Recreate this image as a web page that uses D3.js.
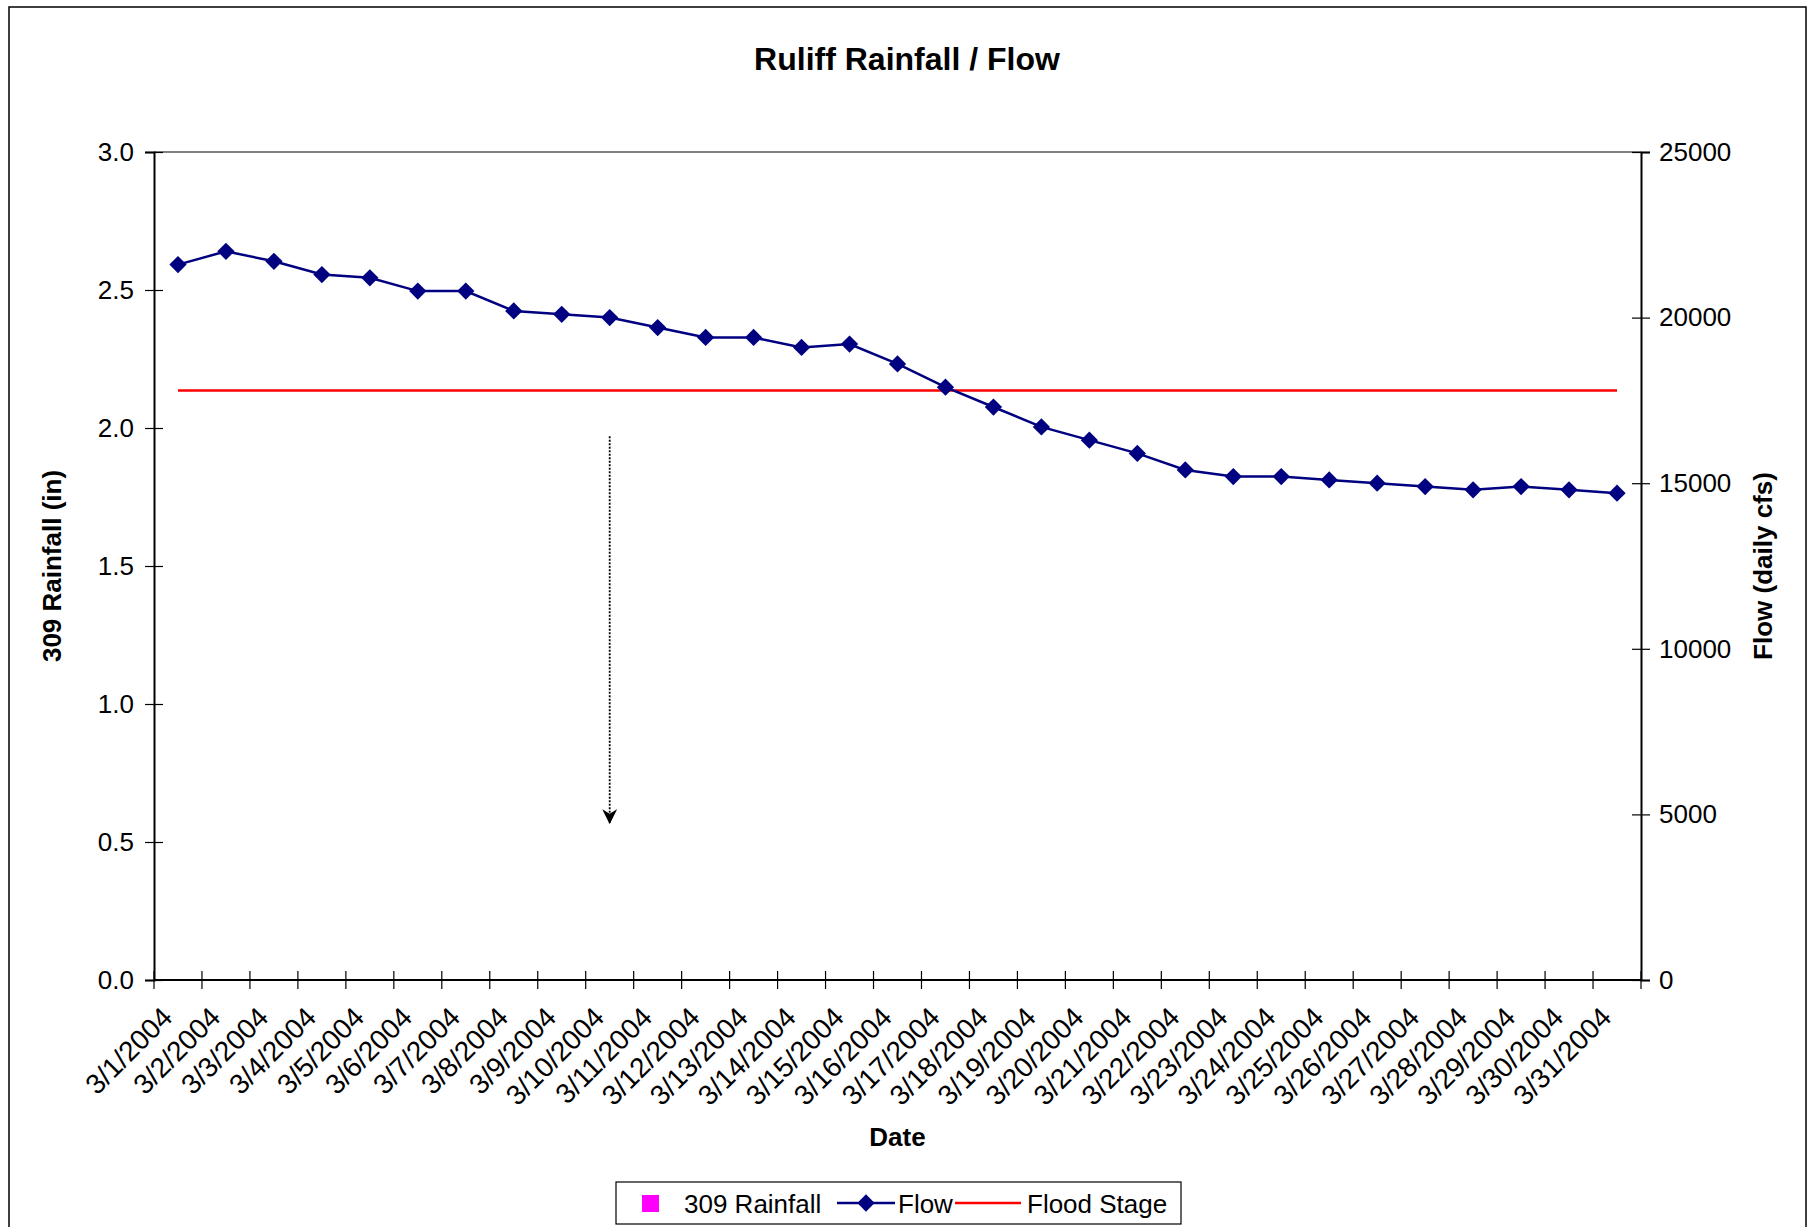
<!DOCTYPE html>
<html>
<head>
<meta charset="utf-8">
<script src="https://cdn.jsdelivr.net/npm/d3@7"></script>
<style>
  body { margin: 0; background: #fff; }
  text { font-family: "Liberation Sans", Arial, sans-serif; fill: #000; }
</style>
</head>
<body>
<div id="chart"></div>
<script>
// data
const dates = ["3/1/2004","3/2/2004","3/3/2004","3/4/2004","3/5/2004","3/6/2004","3/7/2004","3/8/2004",
  "3/9/2004","3/10/2004","3/11/2004","3/12/2004","3/13/2004","3/14/2004","3/15/2004","3/16/2004",
  "3/17/2004","3/18/2004","3/19/2004","3/20/2004","3/21/2004","3/22/2004","3/23/2004","3/24/2004",
  "3/25/2004","3/26/2004","3/27/2004","3/28/2004","3/29/2004","3/30/2004","3/31/2004"];
const flow = [21600, 22000, 21700, 21300, 21200, 20800, 20800, 20200, 20100, 20000, 19700, 19400,
  19400, 19100, 19200, 18600, 17900, 17300, 16700, 16300, 15900, 15400, 15200, 15200,
  15100, 15000, 14900, 14800, 14900, 14800, 14700];
const rainfall = dates.map(() => null); // no rainfall values plotted
const floodStage = 17800;
const rainTicks = [0, 0.5, 1.0, 1.5, 2.0, 2.5, 3.0];
const flowTicks = [0, 5000, 10000, 15000, 20000, 25000];
const arrowDate = "3/10/2004";
const arrowFrom = 1.97, arrowTo = 0.57;

const svgWidth = 1815;
const svgHeight = 1227;
const plot = { left: 154, right: 1641, top: 152, bottom: 980 };

const svg = d3.select("#chart").append("svg")
  .attr("width", svgWidth)
  .attr("height", svgHeight);

svg.append("rect")
  .attr("x", 9).attr("y", 7)
  .attr("width", 1797).attr("height", 1240)
  .attr("fill", "none").attr("stroke", "#000").attr("stroke-width", 1.5);

const x = d3.scaleBand().domain(dates).range([plot.left, plot.right]);
const yLeft = d3.scaleLinear().domain([0, 3]).range([plot.bottom, plot.top]);
const yRight = d3.scaleLinear().domain([0, 25000]).range([plot.bottom, plot.top]);
const cx = d => x(d) + x.bandwidth() / 2;

// plot area top border
svg.append("line")
  .attr("x1", plot.left).attr("x2", plot.right)
  .attr("y1", plot.top).attr("y2", plot.top)
  .attr("stroke", "#808080").attr("stroke-width", 2);

// left axis
const leftAxis = svg.append("g")
  .attr("transform", `translate(${plot.left},0)`)
  .call(d3.axisLeft(yLeft).tickValues(rainTicks).tickFormat(d3.format(".1f")).tickSize(9).tickPadding(11));
leftAxis.selectAll(".tick line").attr("x2", -9).attr("x1", 9);

// right axis
const rightAxis = svg.append("g")
  .attr("transform", `translate(${plot.right},0)`)
  .call(d3.axisRight(yRight).tickValues(flowTicks).tickFormat(d3.format("d")).tickSize(9).tickPadding(9));
rightAxis.selectAll(".tick line").attr("x1", -9);

// bottom axis, ticks between categories
const bottomAxis = svg.append("g")
  .attr("transform", `translate(0,${plot.bottom})`);
bottomAxis.append("line")
  .attr("x1", plot.left).attr("x2", plot.right)
  .attr("stroke", "#000").attr("stroke-width", 2);
bottomAxis.selectAll("line.tick")
  .data(dates.concat(["end"]))
  .enter().append("line")
  .attr("class", "tick")
  .attr("x1", d => d === "end" ? plot.right : x(d))
  .attr("x2", d => d === "end" ? plot.right : x(d))
  .attr("y1", -9).attr("y2", 9)
  .attr("stroke", "#000").attr("stroke-width", 1.2);
bottomAxis.selectAll("text.lbl")
  .data(dates)
  .enter().append("text")
  .attr("class", "lbl")
  .attr("transform", d => `translate(${cx(d) - 4},${39}) rotate(-45)`)
  .attr("text-anchor", "end")
  .attr("font-size", 28)
  .text(d => d);

[leftAxis, rightAxis].forEach(a => {
  a.selectAll("text").attr("font-size", 26).attr("font-family", "Liberation Sans, Arial, sans-serif").attr("fill", "#000");
  a.selectAll("line").attr("stroke", "#000").attr("stroke-width", 1.2);
  a.select(".domain").attr("stroke", "#000").attr("stroke-width", 2);
});

// flood stage line
svg.append("line")
  .attr("x1", cx(dates[0])).attr("x2", cx(dates[dates.length - 1]))
  .attr("y1", yRight(floodStage)).attr("y2", yRight(floodStage))
  .attr("stroke", "#ff0000").attr("stroke-width", 2.5);

// flow line + diamonds
const line = d3.line().x((d, i) => cx(dates[i])).y(d => yRight(d));
svg.append("path")
  .datum(flow)
  .attr("d", line)
  .attr("fill", "none")
  .attr("stroke", "#000080")
  .attr("stroke-width", 2.5);

const diamond = d3.symbol().type(d3.symbolDiamond2).size(190);
svg.selectAll("path.flowpt")
  .data(flow)
  .enter().append("path")
  .attr("class", "flowpt")
  .attr("d", diamond)
  .attr("transform", (d, i) => `translate(${cx(dates[i])},${yRight(d)})`)
  .attr("fill", "#000080");

// rainfall (no plotted values)
svg.selectAll("rect.rain")
  .data(rainfall.filter(d => d != null))
  .enter().append("rect")
  .attr("class", "rain");

// dotted arrow annotation
svg.append("defs").append("marker")
  .attr("id", "arrow")
  .attr("viewBox", "0 0 10 10")
  .attr("refX", 9).attr("refY", 5)
  .attr("markerWidth", 15).attr("markerHeight", 15)
  .attr("markerUnits", "userSpaceOnUse")
  .attr("orient", "auto")
  .append("path")
  .attr("d", "M0,0 L10,5 L0,10 L3,5 Z")
  .attr("fill", "#000");
svg.append("line")
  .attr("x1", cx(arrowDate)).attr("x2", cx(arrowDate))
  .attr("y1", yLeft(arrowFrom)).attr("y2", yLeft(arrowTo))
  .attr("stroke", "#000").attr("stroke-width", 1.8)
  .attr("stroke-dasharray", "2,1.5")
  .attr("marker-end", "url(#arrow)");

// titles
svg.append("text")
  .attr("x", 907).attr("y", 70)
  .attr("text-anchor", "middle")
  .attr("font-size", 32).attr("font-weight", "bold")
  .text("Ruliff Rainfall / Flow");

svg.append("text")
  .attr("x", (plot.left + plot.right) / 2).attr("y", 1146)
  .attr("text-anchor", "middle")
  .attr("font-size", 26).attr("font-weight", "bold")
  .text("Date");

svg.append("text")
  .attr("transform", `translate(61,${(plot.top + plot.bottom) / 2}) rotate(-90)`)
  .attr("text-anchor", "middle")
  .attr("font-size", 26).attr("font-weight", "bold")
  .text("309 Rainfall (in)");

svg.append("text")
  .attr("transform", `translate(1772,${(plot.top + plot.bottom) / 2}) rotate(-90)`)
  .attr("text-anchor", "middle")
  .attr("font-size", 26).attr("font-weight", "bold")
  .text("Flow (daily cfs)");

// legend
const legend = svg.append("g").attr("transform", "translate(616,1182)");
legend.append("rect")
  .attr("width", 565).attr("height", 42)
  .attr("fill", "#fff").attr("stroke", "#000").attr("stroke-width", 1.2);
legend.append("rect")
  .attr("x", 26).attr("y", 13).attr("width", 17).attr("height", 17)
  .attr("fill", "#ff00ff");
legend.append("text").attr("x", 68).attr("y", 31).attr("font-size", 26).text("309 Rainfall");
legend.append("line")
  .attr("x1", 221).attr("x2", 279).attr("y1", 21).attr("y2", 21)
  .attr("stroke", "#000080").attr("stroke-width", 2.5);
legend.append("path")
  .attr("d", diamond)
  .attr("transform", "translate(250,21)")
  .attr("fill", "#000080");
legend.append("text").attr("x", 282).attr("y", 31).attr("font-size", 26).text("Flow");
legend.append("line")
  .attr("x1", 339).attr("x2", 405).attr("y1", 21).attr("y2", 21)
  .attr("stroke", "#ff0000").attr("stroke-width", 2.5);
legend.append("text").attr("x", 411).attr("y", 31).attr("font-size", 26).text("Flood Stage");
</script>
</body>
</html>
